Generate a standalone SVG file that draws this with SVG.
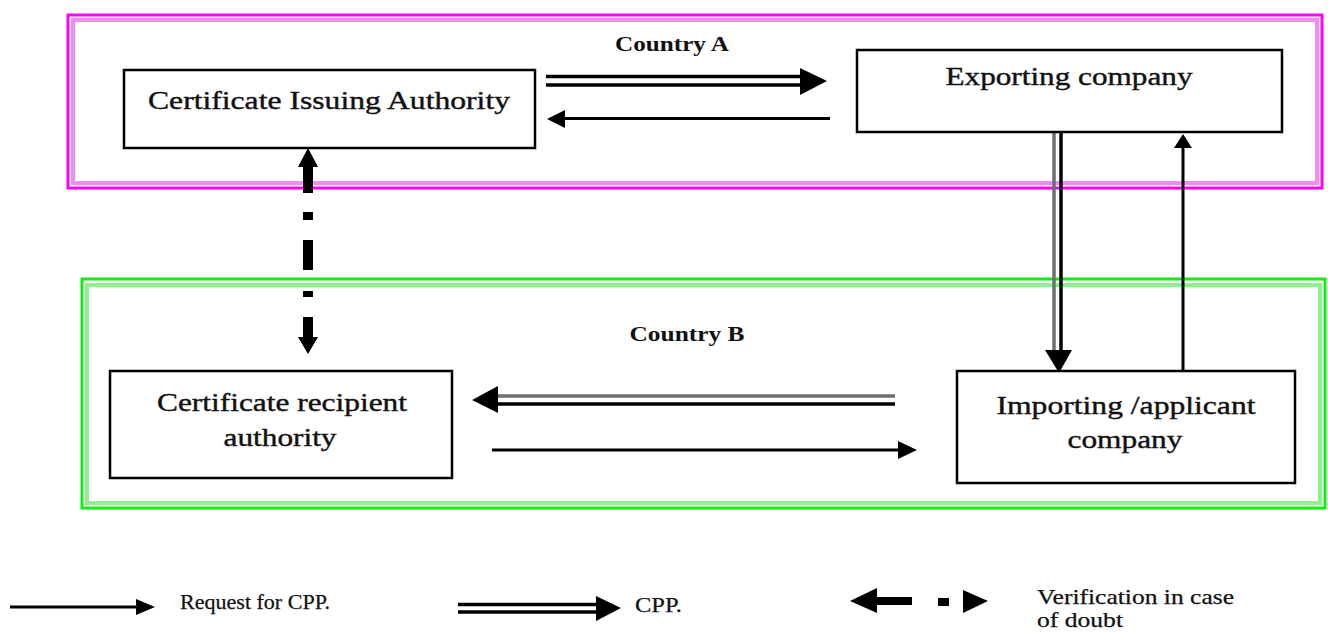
<svg xmlns="http://www.w3.org/2000/svg" width="1328" height="633" viewBox="0 0 1328 633">
<style>
.frameA1{fill:none;stroke:#ff00ff;stroke-width:3}
.frameA2{fill:none;stroke:#f28af2;stroke-width:4}
.frameB1{fill:none;stroke:#11ee11;stroke-width:3}
.frameB2{fill:none;stroke:#8ef08e;stroke-width:4}
.box{fill:#fff;stroke:#000;stroke-width:2.5}
.lbl{font-family:"Liberation Serif","Times New Roman",serif;font-size:26px;fill:#111;stroke:#111;stroke-width:0.4;text-anchor:middle}
.cty{font-family:"Liberation Serif","Times New Roman",serif;font-size:21px;font-weight:bold;fill:#111;text-anchor:middle}
.leg{font-family:"Liberation Serif","Times New Roman",serif;font-size:21px;fill:#111;stroke:#111;stroke-width:0.25}
.thin{stroke:#000;stroke-width:3;fill:none}
.blk{stroke:#000;stroke-width:3.5;fill:none}
.gry{stroke:#6e6e6e;stroke-width:3.5;fill:none}
.head{fill:#000}
.thick{fill:#000}
</style>
<g id="country-a">
<rect class="frameA1" x="68" y="15" width="1254" height="173"/>
<rect class="frameA2" x="73" y="20" width="1244" height="163"/>
<text class="cty" x="672" y="51" textLength="114" lengthAdjust="spacingAndGlyphs">Country A</text>
</g>
<g id="country-b">
<rect class="frameB1" x="82" y="279" width="1243" height="229"/>
<rect class="frameB2" x="87" y="285" width="1233" height="218"/>
<text class="cty" x="687" y="341" textLength="115" lengthAdjust="spacingAndGlyphs">Country B</text>
</g>
<g id="connectors">
<line class="blk" x1="546" y1="76.5" x2="806" y2="76.5"/>
<line class="blk" x1="546" y1="85" x2="806" y2="85"/>
<polygon class="head" points="800,68 827,81 800,95"/>
<line class="thin" x1="560" y1="118.5" x2="830" y2="118.5"/>
<polygon class="head" points="547,119 565,110 565,128"/>
<line class="gry" x1="1054" y1="133" x2="1054" y2="355"/>
<line class="blk" x1="1061" y1="133" x2="1061" y2="355"/>
<polygon class="head" points="1045,350 1072,350 1059,373"/>
<line class="thin" x1="1183" y1="145" x2="1183" y2="372"/>
<polygon class="head" points="1174,148 1183,134 1192,148"/>
<line class="gry" x1="492" y1="396" x2="895" y2="396"/>
<line class="blk" x1="492" y1="404" x2="895" y2="404"/>
<polygon class="head" points="472,400 498,386 498,413"/>
<line class="thin" x1="492" y1="450" x2="902" y2="450"/>
<polygon class="head" points="898,441 917,450 898,459"/>
<polygon class="thick" points="308,148 318,167 313,167 313,193 303,193 303,167 298,167"/>
<rect class="thick" x="303" y="212" width="10" height="8"/>
<rect class="thick" x="303" y="240" width="10" height="30"/>
<rect class="thick" x="303" y="291" width="10" height="6"/>
<polygon class="thick" points="303,317 313,317 313,337 318,337 308,354 298,337 303,337"/>
</g>
<g id="certificate-issuing-authority">
<rect class="box" x="124" y="70" width="411" height="78"/>
<text class="lbl" x="329" y="109" textLength="362" lengthAdjust="spacingAndGlyphs">Certificate Issuing Authority</text>
</g>
<g id="exporting-company">
<rect class="box" x="857" y="50" width="425" height="82"/>
<text class="lbl" x="1069" y="85" textLength="247" lengthAdjust="spacingAndGlyphs">Exporting company</text>
</g>
<g id="certificate-recipient-authority">
<rect class="box" x="110" y="371" width="342" height="107"/>
<text class="lbl" x="282" y="411" textLength="250" lengthAdjust="spacingAndGlyphs">Certificate recipient</text>
<text class="lbl" x="280" y="446" textLength="113" lengthAdjust="spacingAndGlyphs">authority</text>
</g>
<g id="importing-applicant-company">
<rect class="box" x="957" y="371" width="338" height="112"/>
<text class="lbl" x="1126" y="414" textLength="259" lengthAdjust="spacingAndGlyphs">Importing /applicant</text>
<text class="lbl" x="1125" y="448" textLength="115" lengthAdjust="spacingAndGlyphs">company</text>
</g>
<g id="legend">
<line class="thin" x1="10" y1="607" x2="140" y2="607"/>
<polygon class="head" points="136,599 155,607 136,615"/>
<text class="leg" x="180" y="609" textLength="150" lengthAdjust="spacingAndGlyphs">Request for CPP.</text>
<line class="blk" x1="458" y1="604.5" x2="600" y2="604.5"/>
<line class="blk" x1="458" y1="612" x2="600" y2="612"/>
<polygon class="head" points="596,596 621,608 596,621"/>
<text class="leg" x="635" y="612" textLength="47" lengthAdjust="spacingAndGlyphs">CPP.</text>
<polygon class="thick" points="850,601 877,588 877,597 912,597 912,605 877,605 877,613"/>
<rect class="thick" x="938" y="598" width="11" height="8"/>
<polygon class="thick" points="963,590 988,601 963,613"/>
<text class="leg" x="1037" y="604" textLength="197" lengthAdjust="spacingAndGlyphs">Verification in case</text>
<text class="leg" x="1037" y="627" textLength="86" lengthAdjust="spacingAndGlyphs">of doubt</text>
</g>
</svg>
